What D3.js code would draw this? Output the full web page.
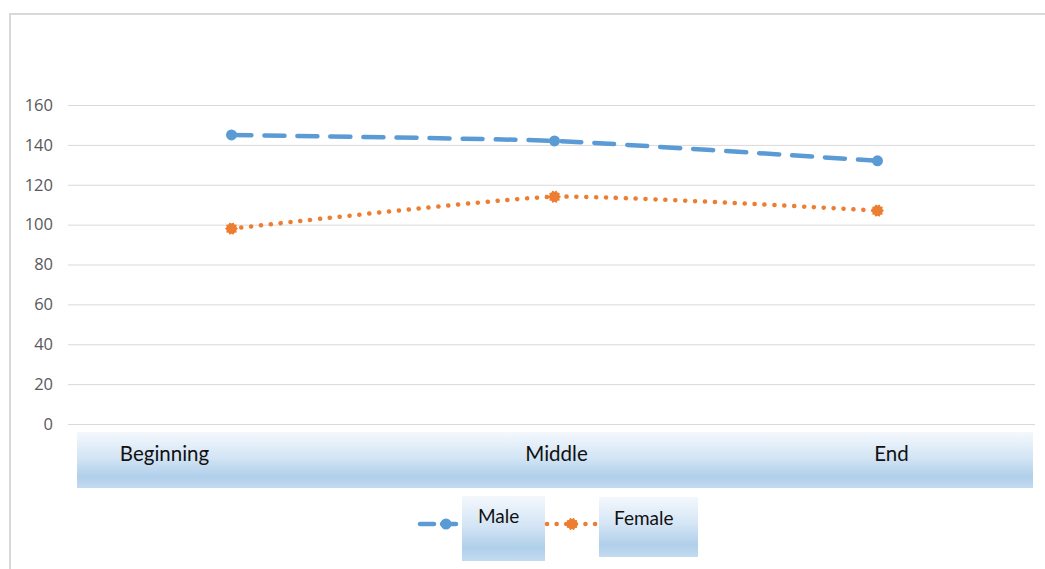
<!DOCTYPE html>
<html>
<head>
<meta charset="utf-8">
<script src="https://cdn.jsdelivr.net/npm/d3@7"></script>
<style>
  html, body { margin: 0; padding: 0; background: #fff; }
  svg { display: block; }
  text { font-family: Lato, "Open Sans", sans-serif; }
</style>
</head>
<body>
<svg id="chart" width="1045" height="569"></svg>
<script>
// Stages along the x axis
const categories = ["Beginning", "Middle", "End"];
// Series values per stage
const maleValues = [145, 142, 132];
const femaleValues = [98, 114, 107];
// Value axis ticks
const yTicks = [0, 20, 40, 60, 80, 100, 120, 140, 160];
// Legend entries
const seriesNames = ["Male", "Female"];

const svg = d3.select("#chart");
const W = 1045, H = 569;
const plot = { left: 68, right: 1035, top: 105, bottom: 424 };

const blue = "#5b9bd5";
const orange = "#ed7d31";

// Gradient used for the category band and legend boxes
const defs = svg.append("defs");
const grad = defs.append("linearGradient")
  .attr("id", "bandGrad").attr("x1", 0).attr("y1", 0).attr("x2", 0).attr("y2", 1);
grad.append("stop").attr("offset", "0%").attr("stop-color", "#f4f8fd");
grad.append("stop").attr("offset", "45%").attr("stop-color", "#d4e5f5");
grad.append("stop").attr("offset", "80%").attr("stop-color", "#b0cfea");
grad.append("stop").attr("offset", "100%").attr("stop-color", "#c3dbf0");

// Chart frame (clipped at right and bottom)
svg.append("path")
  .attr("d", `M10,${H + 2} L10,14 L${W + 2},14`)
  .attr("fill", "none").attr("stroke", "#d9d9d9").attr("stroke-width", 2);

const x = d3.scaleBand().domain(categories).range([plot.left + 2, plot.right + 4]);
const xc = d => x(d) + x.bandwidth() / 2;
const y = d3.scaleLinear().domain([0, 160]).range([plot.bottom, plot.top]);

// Gridlines + tick labels
const yAxis = d3.axisLeft(y).tickValues(yTicks).tickSize(plot.left - plot.right).tickPadding(16);
const gy = svg.append("g").attr("transform", `translate(${plot.left},0)`).call(yAxis);
gy.select(".domain").remove();
gy.selectAll(".tick line").attr("stroke", "#d9d9d9").attr("stroke-width", 1);
gy.selectAll(".tick text")
  .attr("fill", "#595959").attr("font-size", 16.5).attr("x", -15)
  .style("font-family", "'Open Sans', sans-serif").style("font-weight", 400);

// Category band
svg.append("rect")
  .attr("x", 77).attr("y", 432).attr("width", 956).attr("height", 56)
  .attr("fill", "url(#bandGrad)");

// Category labels
const labelShift = [-67, 2, 14];
const gx = svg.append("g").attr("transform", "translate(0,424)")
  .call(d3.axisBottom(x).tickSize(0).tickPadding(0));
gx.select(".domain").remove();
gx.selectAll(".tick").each(function(d, i) {
  d3.select(this).select("text")
    .attr("x", labelShift[i]).attr("y", 37).attr("dy", 0)
    .attr("fill", "#111").attr("font-size", 20.5)
    .style("font-family", "Lato, sans-serif");
});

// Smoothed series lines
const line = d3.line()
  .x((d, i) => xc(categories[i]))
  .y(d => y(d))
  .curve(d3.curveCardinal.tension(0.5));

svg.append("path").datum(maleValues)
  .attr("d", line).attr("fill", "none")
  .attr("stroke", blue).attr("stroke-width", 4.5)
  .attr("stroke-linecap", "round").attr("stroke-dasharray", "20 13");

svg.append("path").datum(femaleValues)
  .attr("d", line).attr("fill", "none")
  .attr("stroke", orange).attr("stroke-width", 4.5)
  .attr("stroke-linecap", "round").attr("stroke-dasharray", "0.1 9.8");

// Spiky marker for the female series
function gearPath(r, spikes) {
  const pts = [];
  for (let i = 0; i < spikes * 2; i++) {
    const a = Math.PI * i / spikes;
    const rr = i % 2 === 0 ? r : r * 0.78;
    pts.push([Math.cos(a) * rr, Math.sin(a) * rr]);
  }
  return "M" + pts.map(p => p.join(",")).join("L") + "Z";
}

svg.append("g").selectAll("circle").data(maleValues).join("circle")
  .attr("cx", (d, i) => xc(categories[i])).attr("cy", d => y(d))
  .attr("r", 5.5).attr("fill", blue);

svg.append("g").selectAll("path").data(femaleValues).join("path")
  .attr("transform", (d, i) => `translate(${xc(categories[i])},${y(d)})`)
  .attr("d", gearPath(6.5, 10)).attr("fill", orange);

// Legend
const legend = svg.append("g");
// Male entry
legend.append("line").attr("x1", 420).attr("x2", 462).attr("y1", 524).attr("y2", 524)
  .attr("stroke", blue).attr("stroke-width", 4.5).attr("stroke-linecap", "round")
  .attr("stroke-dasharray", "14 8");
legend.append("circle").attr("cx", 446).attr("cy", 524).attr("r", 5.5).attr("fill", blue);
legend.append("rect").attr("x", 462).attr("y", 496).attr("width", 83).attr("height", 65)
  .attr("fill", "url(#bandGrad)");
legend.append("text").attr("x", 478).attr("y", 523).text(seriesNames[0])
  .attr("font-size", 19).attr("fill", "#111");
// Female entry
legend.append("line").attr("x1", 547).attr("x2", 598).attr("y1", 524).attr("y2", 524)
  .attr("stroke", orange).attr("stroke-width", 4.5).attr("stroke-linecap", "round")
  .attr("stroke-dasharray", "0.1 9.5");
legend.append("path").attr("transform", "translate(572,524)")
  .attr("d", gearPath(6.5, 10)).attr("fill", orange);
legend.append("rect").attr("x", 599).attr("y", 497).attr("width", 99).attr("height", 60)
  .attr("fill", "url(#bandGrad)");
legend.append("text").attr("x", 614).attr("y", 525).text(seriesNames[1])
  .attr("font-size", 19).attr("fill", "#111");
</script>
</body>
</html>
